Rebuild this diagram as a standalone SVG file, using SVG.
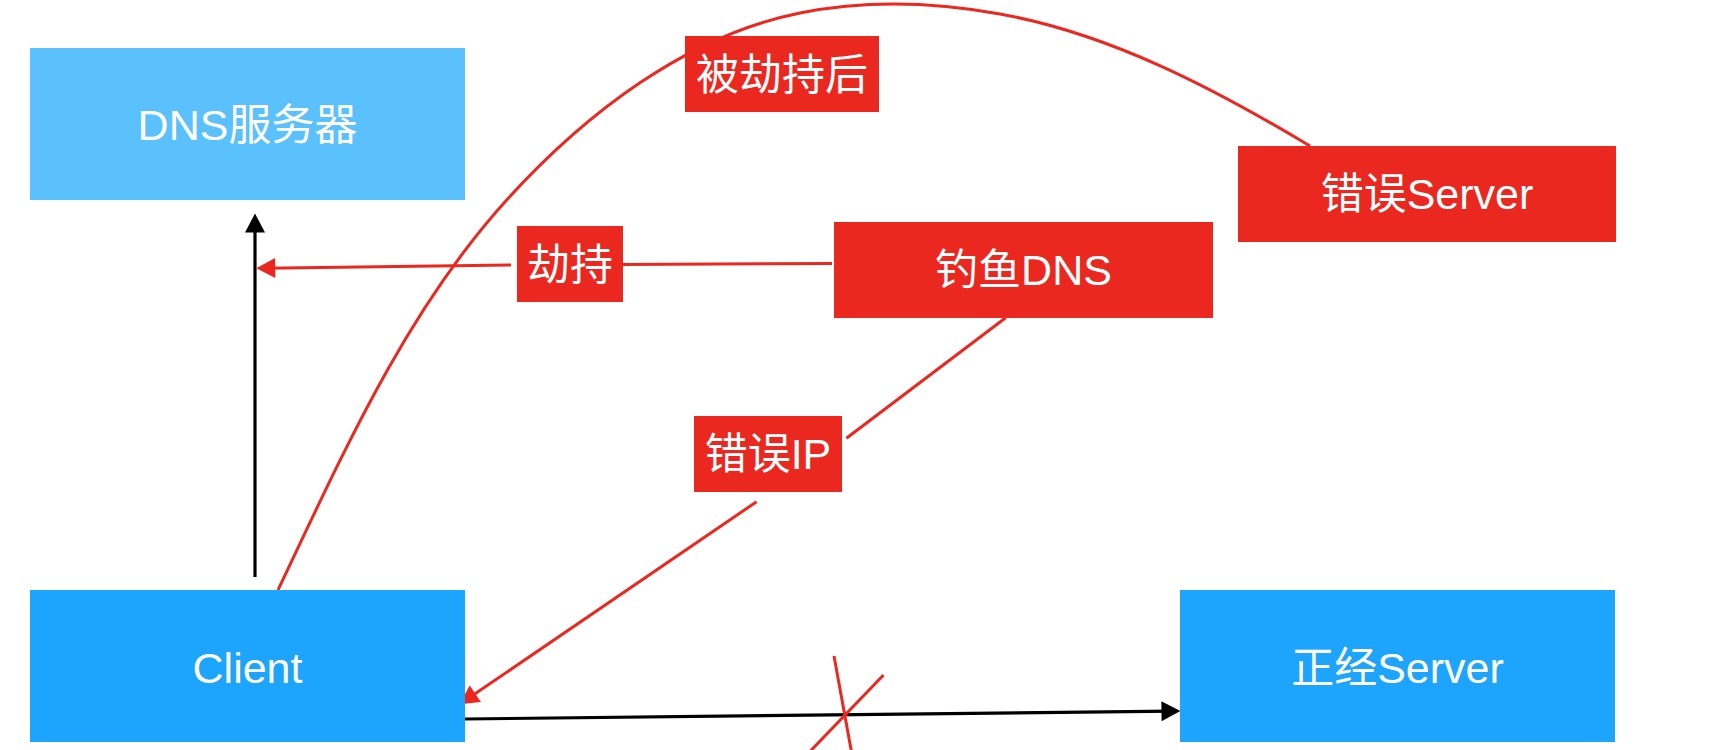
<svg xmlns="http://www.w3.org/2000/svg" width="1720" height="750" viewBox="0 0 1720 750">
  <style>
    .t { font-family: "Liberation Sans", "Noto Sans CJK SC", sans-serif; font-size: 43px; fill: #ffffff; text-anchor: middle; }
    .blue { fill: #1DA4FC; }
    .lblue { fill: #5BC1FC; }
    .red { fill: #EA2820; }
    .rl { fill: none; stroke: #EA2820; stroke-width: 3; }
    .bl { fill: none; stroke: #000000; stroke-width: 3.2; }
  </style>
  <defs>
    <marker id="ahBlack" markerUnits="userSpaceOnUse" markerWidth="20" markerHeight="20" viewBox="0 0 18 19" refX="10" refY="9.5" orient="auto">
      <path d="M0,0 L18,9.5 L0,19 z" fill="#000000"/>
    </marker>
    <marker id="ahRed" markerUnits="userSpaceOnUse" markerWidth="20" markerHeight="20" viewBox="0 0 18 19" refX="10" refY="9.5" orient="auto">
      <path d="M0,0 L18,9.5 L0,19 z" fill="#EA2820"/>
    </marker>
  </defs>
  <rect width="1720" height="750" fill="#ffffff"/>

  <g id="connectors">
    <!-- Client -> DNS server -->
    <path class="bl" d="M255,577 L255,222" marker-end="url(#ahBlack)"/>
    <!-- Client -> 正经Server -->
    <path class="bl" d="M465,719 L1172,711.1" marker-end="url(#ahBlack)"/>
    <!-- 钓鱼DNS -> DNS (劫持) -->
    <path class="rl" d="M832,263.5 L623,264.5"/>
    <path class="rl" d="M511,265 L264.7,268.2" marker-end="url(#ahRed)"/>
    <!-- 钓鱼DNS -> Client (错误IP) -->
    <path class="rl" d="M1005.7,317.7 L846.4,438.3"/>
    <path class="rl" d="M756.6,501.7 L466.6,699.6" marker-end="url(#ahRed)"/>
    <!-- Client -> 错误Server (被劫持后) -->
    <path class="rl" d="M278,590 C342.5,454.5 405.7,311 506.7,200 C584.7,114.2 686.2,35.7 800,13 C865.7,-0.1 934.1,2.1 1000,14 C1110.2,33.8 1214,88.4 1310,146"/>
    <!-- blocked cross -->
    <path class="rl" d="M834,656 L851.5,752"/>
    <path class="rl" d="M883.5,675 L809.5,752"/>
  </g>

  <g id="node-dns">
    <rect class="lblue" x="30" y="48" width="435" height="152"/>
    <text class="t" x="247.5" y="140">DNS服务器</text>
  </g>
  <g id="node-client">
    <rect class="blue" x="30" y="590" width="435" height="152"/>
    <text class="t" x="247.5" y="683">Client</text>
  </g>
  <g id="node-real-server">
    <rect class="blue" x="1180" y="590" width="435" height="152"/>
    <text class="t" x="1397.5" y="683">正经Server</text>
  </g>
  <g id="node-phishing-dns">
    <rect class="red" x="834" y="222" width="379" height="96"/>
    <text class="t" x="1023.5" y="285">钓鱼DNS</text>
  </g>
  <g id="node-wrong-server">
    <rect class="red" x="1238" y="146" width="378" height="96"/>
    <text class="t" x="1427" y="209">错误Server</text>
  </g>

  <g id="label-hijack">
    <rect class="red" x="517" y="226" width="106" height="76"/>
    <text class="t" x="570" y="280">劫持</text>
  </g>
  <g id="label-after-hijack">
    <rect class="red" x="685" y="36" width="194" height="76"/>
    <text class="t" x="782" y="90">被劫持后</text>
  </g>
  <g id="label-wrong-ip">
    <rect class="red" x="694" y="416" width="148" height="76"/>
    <text class="t" x="768" y="469">错误IP</text>
  </g>
</svg>
